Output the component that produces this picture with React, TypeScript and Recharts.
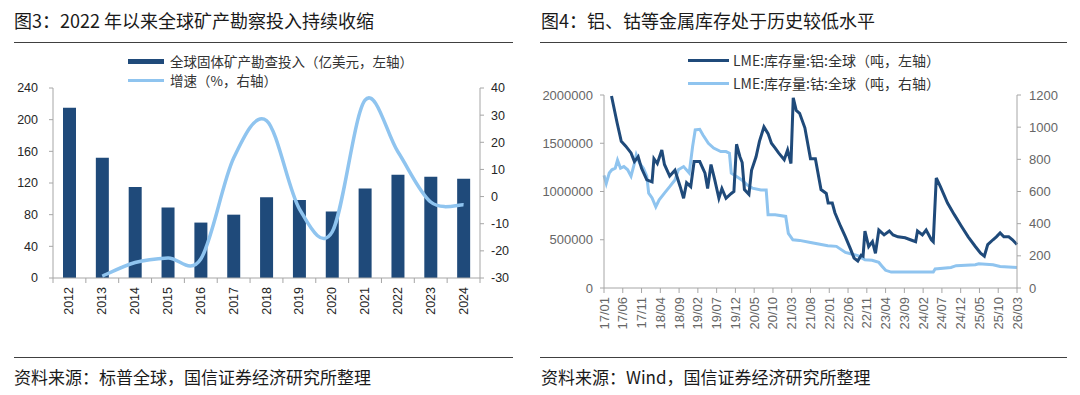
import React from "react";
import { ComposedChart, LineChart, Bar, Line, XAxis, YAxis } from "recharts";

// ---------- Figure 3 data ----------
const years = ["2012", "2013", "2014", "2015", "2016", "2017", "2018", "2019", "2020", "2021", "2022", "2023", "2024"];
const investment = [215, 152, 115, 89, 70, 80, 102, 98.5, 84, 113, 130.5, 128, 125.5];
const growth: (number | null)[] = [null, -29.3, -24.3, -22.6, -23, 14.2, 28, -4.5, -13, 35.5, 16.5, -2, -3];
const leftTicks3 = [0, 40, 80, 120, 160, 200, 240];
const rightTicks3 = [-30, -20, -10, 0, 10, 20, 30, 40];

// ---------- Figure 4 data ----------
const monthLabels = ["17/01", "17/06", "17/11", "18/04", "18/09", "19/02", "19/07", "19/12", "20/05", "20/10", "21/03", "21/08", "22/01", "22/06", "22/11", "23/04", "23/09", "24/02", "24/07", "24/12", "25/05", "25/10", "26/03"];
const monthTicks = monthLabels.map((_, i) => i * 5);
const alMonths = [2, 3.5, 4.6, 5.8, 7.2, 8.1, 9.1, 10, 11.4, 12.8, 13.3, 14.2, 15.4, 16.1, 17.5, 18.9, 20.3, 21.2, 22, 23.1, 24, 25.5, 26.9, 27.6, 28.5, 29.5, 30.6, 31.4, 32.5, 33.9, 34.6, 35.3, 36.2, 36.8, 37.4, 38.6, 39.3, 40.5, 41.4, 42.6, 43.7, 44.6, 45.6, 46.5, 48, 48.9, 49.8, 50.4, 51.2, 52.1, 53.5, 55, 56.3, 57.8, 59.2, 59.7, 60.8, 61.5, 63, 64.3, 65.7, 66.6, 67.6, 68.5, 69, 69.5, 70.5, 71.5, 72.3, 73.2, 74.6, 76, 77, 78.3, 80.2, 81.6, 83, 83.5, 84.8, 85.8, 87.2, 87.7, 88.5, 89.6, 91.5, 93.3, 95.2, 97, 98.9, 100.3, 101.3, 102.2, 103.6, 104.5, 105.5, 106.5, 107.8, 108.8, 110];
const alValues = [1990000, 1710000, 1520000, 1470000, 1400000, 1310000, 1360000, 1240000, 1120000, 1100000, 1340000, 1290000, 1430000, 1280000, 1160000, 1220000, 1050000, 930000, 1090000, 1050000, 1310000, 1310000, 1190000, 1030000, 1280000, 1120000, 930000, 1030000, 930000, 980000, 1000000, 1490000, 1360000, 1300000, 1020000, 970000, 1220000, 1360000, 1520000, 1670000, 1600000, 1500000, 1450000, 1400000, 1330000, 1430000, 1290000, 1970000, 1840000, 1810000, 1660000, 1340000, 1340000, 1020000, 980000, 880000, 880000, 780000, 640000, 530000, 400000, 310000, 280000, 340000, 330000, 590000, 430000, 480000, 360000, 600000, 550000, 590000, 550000, 530000, 520000, 500000, 480000, 590000, 550000, 600000, 500000, 480000, 1140000, 1050000, 880000, 760000, 640000, 530000, 430000, 360000, 330000, 450000, 500000, 530000, 570000, 530000, 530000, 500000, 450000];
const coMonths = [0, 0.6, 1.4, 2.1, 3, 3.6, 4.4, 5.3, 6.3, 7.2, 8.1, 8.6, 9.5, 10.5, 11.4, 11.9, 12.8, 13.8, 14.7, 16.1, 17.5, 18.9, 19.8, 21.2, 22.7, 23.6, 24.3, 25.5, 26.4, 27.8, 29.2, 31.1, 32.5, 33.4, 33.9, 35.3, 36.7, 38.1, 39.5, 41.8, 43.2, 43.7, 45.6, 48.4, 49.1, 50.3, 52.1, 55, 56.8, 59.6, 61.9, 64.3, 65.7, 67.6, 69.5, 71.4, 73.2, 74.1, 75, 76.5, 87.7, 88.2, 92.4, 93.8, 98.9, 99.8, 103.6, 105.5, 110];
const coValues = [700, 650, 715, 735, 745, 795, 745, 755, 735, 695, 775, 828, 775, 745, 695, 590, 560, 505, 548, 590, 630, 672, 735, 755, 715, 880, 983, 987, 950, 900, 870, 848, 848, 838, 714, 693, 672, 641, 621, 610, 610, 455, 455, 445, 340, 300, 296, 283, 275, 263, 259, 221, 213, 201, 176, 172, 159, 134, 110, 99, 99, 118, 128, 139, 145, 151, 145, 134, 128];
const alLeftTicks = [0, 500000, 1000000, 1500000, 2000000];
const coRightTicks = [0, 200, 400, 600, 800, 1000, 1200];

const fig3Data = years.map((y, i) => ({ year: y, inv: investment[i], growth: growth[i] }));
const alData = alMonths.map((m, i) => ({ m, al: alValues[i] }));
const coData = coMonths.map((m, i) => ({ m, co: coValues[i] }));

// ---------- styles ----------
const DARK = "#1F4A7A";
const LIGHT = "#8FC4EF";
const AXIS = "#A6A6A6";
const CJK = "'Noto Sans CJK SC', 'Noto Sans', sans-serif";
const NUM = "'Liberation Sans', Arial, sans-serif";

// Catmull-Rom curve (Excel-like smoothing)
const catmullRom = (context: any) => {
  let pts: [number, number][] = [];
  return {
    areaStart() {},
    areaEnd() {},
    lineStart() {
      pts = [];
    },
    point(x: number, y: number) {
      pts.push([+x, +y]);
    },
    lineEnd() {
      const n = pts.length;
      if (!n) return;
      context.moveTo(pts[0][0], pts[0][1]);
      for (let i = 0; i < n - 1; i++) {
        const p0 = pts[i === 0 ? 0 : i - 1];
        const p1 = pts[i];
        const p2 = pts[i + 1];
        const p3 = pts[i + 2 < n ? i + 2 : n - 1];
        context.bezierCurveTo(
          p1[0] + (p2[0] - p0[0]) / 6,
          p1[1] + (p2[1] - p0[1]) / 6,
          p2[0] - (p3[0] - p1[0]) / 6,
          p2[1] - (p3[1] - p1[1]) / 6,
          p2[0],
          p2[1]
        );
      }
    },
  };
};

const YearTick = (props: any) => {
  const { x, y, payload, index, width, visibleTicksCount } = props;
  const step = width / (visibleTicksCount || years.length);
  const y0 = y - 8;
  return (
    <g>
      <line x1={x - step / 2} x2={x - step / 2} y1={y0} y2={y0 + 5} stroke={AXIS} />
      {index === years.length - 1 && <line x1={x + step / 2} x2={x + step / 2} y1={y0} y2={y0 + 5} stroke={AXIS} />}
      <text
        transform={`translate(${x},${y + 1}) rotate(-90)`}
        textAnchor="end"
        dominantBaseline="central"
        fontSize={12.5}
        fontFamily={NUM}
        fill="#262626"
      >
        {payload.value}
      </text>
    </g>
  );
};

const MonthTick = (props: any) => {
  const { x, y, payload } = props;
  const label = monthLabels[Math.round(payload.value / 5)];
  return (
    <text
      transform={`translate(${x},${y + 1}) rotate(-90)`}
      textAnchor="end"
      dominantBaseline="central"
      fontSize={13}
      fontFamily={NUM}
      fill="#666"
    >
      {label}
    </text>
  );
};

const abs = (s: React.CSSProperties): React.CSSProperties => ({ position: "absolute", ...s });

export default function App() {
  return (
    <div style={abs({ left: 0, top: 0, width: 1080, height: 395, background: "#fff", overflow: "hidden" })}>
      {/* Titles */}
      <div style={abs({ left: 14, top: 8, fontSize: 18, lineHeight: "24px", fontFamily: CJK, color: "#1a1a1a", whiteSpace: "nowrap" })}>
        图3：2022 年以来全球矿产勘察投入持续收缩
      </div>
      <div style={abs({ left: 541, top: 8, fontSize: 18, lineHeight: "24px", fontFamily: CJK, color: "#1a1a1a", whiteSpace: "nowrap" })}>
        图4：铝、钴等金属库存处于历史较低水平
      </div>
      <div style={abs({ left: 14, top: 42, width: 499, height: 1, background: "#404040" })} />
      <div style={abs({ left: 540, top: 42, width: 527, height: 1, background: "#404040" })} />

      {/* Legends fig 3 */}
      <div style={abs({ left: 128, top: 59, width: 36, height: 5, background: DARK })} />
      <div style={abs({ left: 170, top: 52, fontSize: 13.5, lineHeight: "18px", fontFamily: CJK, color: "#333", whiteSpace: "nowrap" })}>
        全球固体矿产勘查投入（亿美元，左轴）
      </div>
      <div style={abs({ left: 128, top: 79, width: 36, height: 3, background: LIGHT })} />
      <div style={abs({ left: 170, top: 71, fontSize: 13.5, lineHeight: "18px", fontFamily: CJK, color: "#333", whiteSpace: "nowrap" })}>
        增速（%，右轴）
      </div>

      {/* Legends fig 4 */}
      <div style={abs({ left: 688, top: 59, width: 41, height: 3, background: DARK })} />
      <div style={abs({ left: 733, top: 51, fontSize: 14, lineHeight: "18px", fontFamily: CJK, color: "#333", whiteSpace: "nowrap" })}>
        LME:库存量:铝:全球（吨，左轴）
      </div>
      <div style={abs({ left: 688, top: 82, width: 41, height: 3, background: LIGHT })} />
      <div style={abs({ left: 733, top: 74, fontSize: 14, lineHeight: "18px", fontFamily: CJK, color: "#333", whiteSpace: "nowrap" })}>
        LME:库存量:钴:全球（吨，右轴）
      </div>

      {/* Figure 3 chart */}
      <div style={abs({ left: 0, top: 0 })}>
        <ComposedChart width={540} height={340} data={fig3Data} margin={{ top: 88, right: 20, bottom: 17, left: 13 }}>
          <XAxis
            dataKey="year"
            height={45}
            interval={0}
            tickLine={false}
            tickSize={5}
            tickMargin={3}
            stroke={AXIS}
            tick={<YearTick />}
          />
          <YAxis
            yAxisId="left"
            width={40}
            domain={[0, 240]}
            ticks={leftTicks3}
            interval={0}
            tickSize={4}
            tickMargin={11}
            stroke={AXIS}
            tick={{ fill: "#262626", fontSize: 12.5, fontFamily: NUM }}
          />
          <YAxis
            yAxisId="right"
            orientation="right"
            width={40}
            domain={[-30, 40]}
            ticks={rightTicks3}
            interval={0}
            tickSize={4}
            tickMargin={7}
            stroke={AXIS}
            tick={{ fill: "#262626", fontSize: 12.5, fontFamily: NUM }}
          />
          <Bar yAxisId="left" dataKey="inv" fill={DARK} barSize={13} isAnimationActive={false} />
          <Line
            yAxisId="right"
            dataKey="growth"
            type={catmullRom as any}
            stroke={LIGHT}
            strokeWidth={3.5}
            dot={false}
            activeDot={false}
            isAnimationActive={false}
          />
        </ComposedChart>
      </div>

      {/* Figure 4 chart */}
      <div style={abs({ left: 530, top: 0 })}>
        <LineChart width={550} height={340} margin={{ top: 95, right: 18, bottom: 12, left: 14 }}>
          <XAxis
            dataKey="m"
            type="number"
            domain={[0, 110]}
            ticks={monthTicks}
            interval={0}
            height={40}
            tickSize={5}
            tickMargin={3}
            stroke={AXIS}
            tick={<MonthTick />}
            allowDuplicatedCategory={false}
          />
          <YAxis
            yAxisId="left"
            width={60}
            domain={[0, 2000000]}
            ticks={alLeftTicks}
            interval={0}
            tickSize={4}
            tickMargin={7}
            stroke={AXIS}
            tick={{ fill: "#666", fontSize: 13, fontFamily: NUM }}
          />
          <YAxis
            yAxisId="right"
            orientation="right"
            width={45}
            domain={[0, 1200]}
            ticks={coRightTicks}
            interval={0}
            tickSize={4}
            tickMargin={8}
            stroke={AXIS}
            tick={{ fill: "#666", fontSize: 13, fontFamily: NUM }}
          />
          <Line
            yAxisId="right"
            data={coData}
            dataKey="co"
            type="linear"
            stroke={LIGHT}
            strokeWidth={3}
            dot={false}
            activeDot={false}
            isAnimationActive={false}
          />
          <Line
            yAxisId="left"
            data={alData}
            dataKey="al"
            type="linear"
            stroke={DARK}
            strokeWidth={3}
            dot={false}
            activeDot={false}
            isAnimationActive={false}
          />
        </LineChart>
      </div>

      {/* Bottom rules and sources */}
      <div style={abs({ left: 14, top: 357, width: 499, height: 1, background: "#404040" })} />
      <div style={abs({ left: 540, top: 357, width: 527, height: 1, background: "#404040" })} />
      <div style={abs({ left: 14, top: 365, fontSize: 17, lineHeight: "24px", fontFamily: CJK, color: "#1a1a1a", whiteSpace: "nowrap" })}>
        资料来源：标普全球，国信证券经济研究所整理
      </div>
      <div style={abs({ left: 541, top: 365, fontSize: 17, lineHeight: "24px", fontFamily: CJK, color: "#1a1a1a", whiteSpace: "nowrap" })}>
        资料来源：Wind，国信证券经济研究所整理
      </div>
    </div>
  );
}
